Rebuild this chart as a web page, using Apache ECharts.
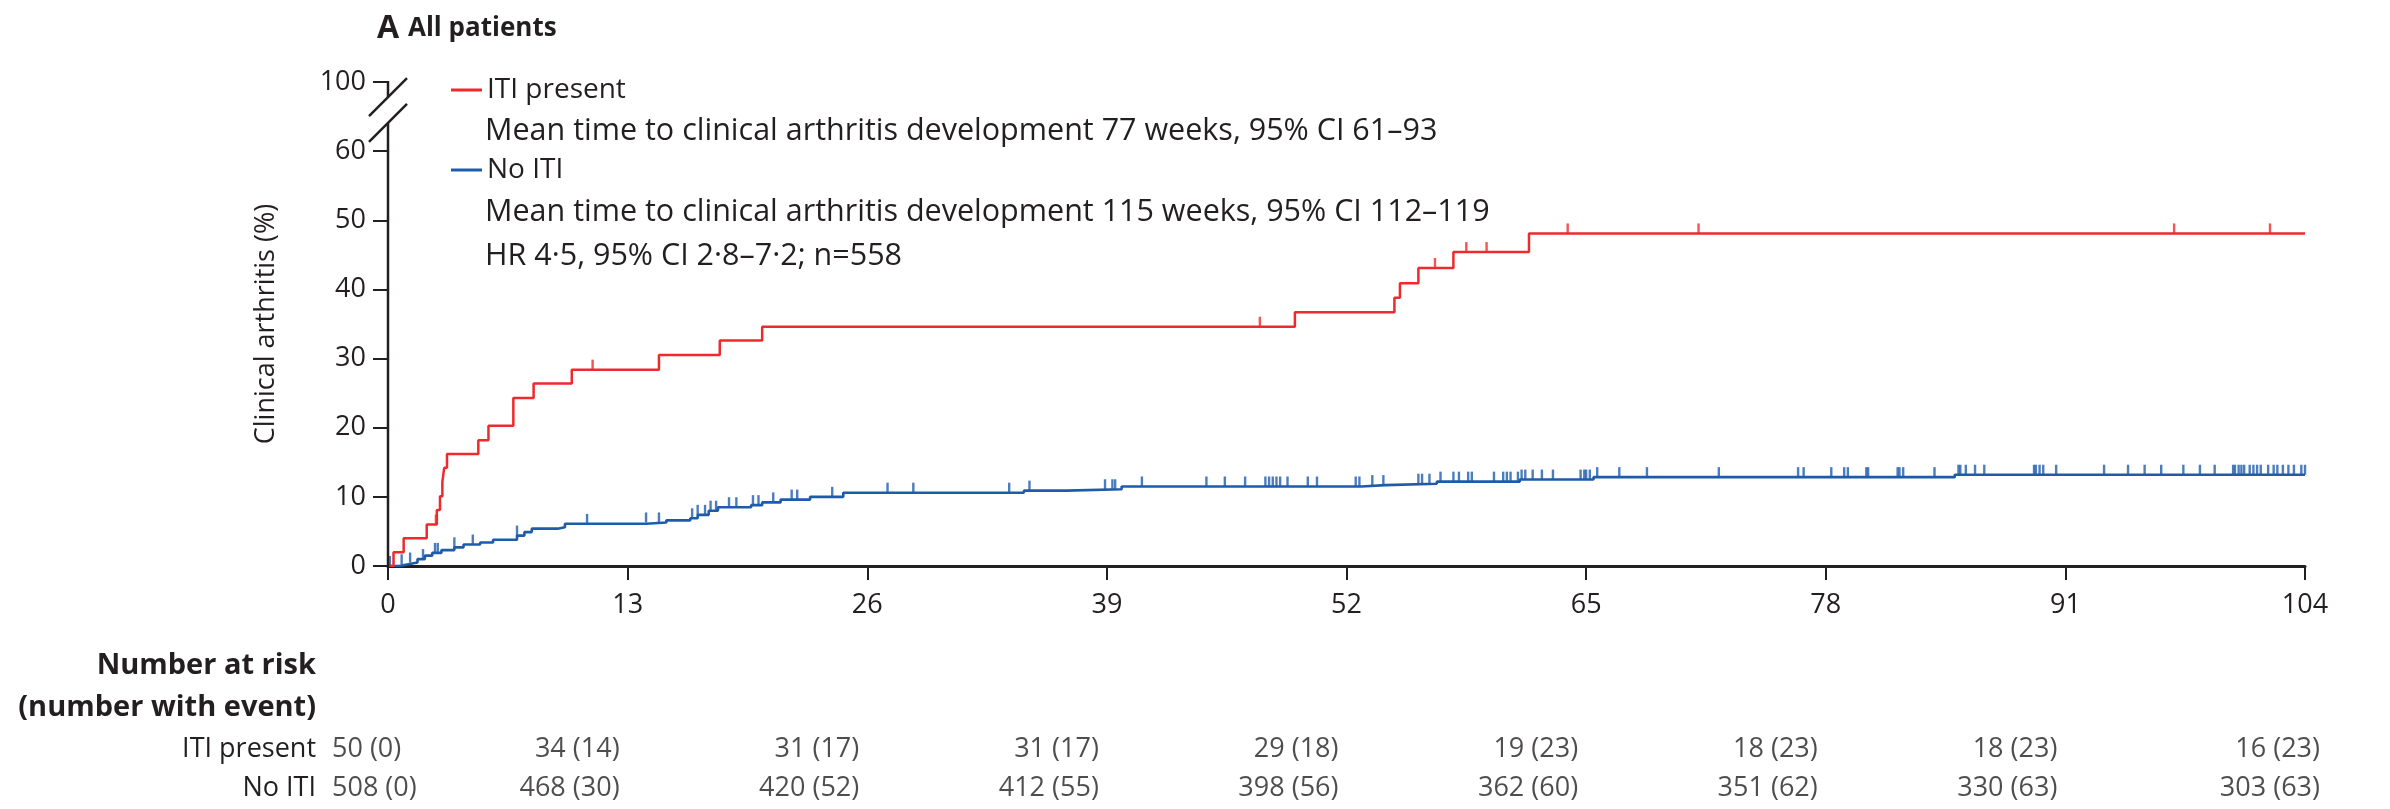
<!DOCTYPE html>
<html><head><meta charset="utf-8">
<script src="https://cdn.jsdelivr.net/npm/echarts@6/dist/echarts.min.js"></script>
<style>html,body{margin:0;padding:0;background:#fff}#c{width:2390px;height:809px}</style>
</head><body><div id="c"></div>
<script>
// ---------- data ----------
const weekTicks = [0, 13, 26, 39, 52, 65, 78, 91, 104];
const yTickLabels = {0:'0',10:'10',20:'20',30:'30',40:'40',50:'50',60:'60',70:'100'};
const riskRows  = ['No ITI', 'ITI present'];
const riskITI   = ['50 (0)','34 (14)','31 (17)','31 (17)','29 (18)','19 (23)','18 (23)','18 (23)','16 (23)'];
const riskNoITI = ['508 (0)','468 (30)','420 (52)','412 (55)','398 (56)','362 (60)','351 (62)','330 (63)','303 (63)'];

const itiWeeks = [0,0.3,0.85,2.1,2.65,2.82,2.95,3.05,3.2,4.9,5.45,6.8,7.9,9.97,14.7,18.0,20.3,49.2,54.6,54.9,55.9,57.8,61.9,104];
const itiPct   = [0,2,4,6,8.1,10.1,12.2,14.2,16.2,18.2,20.3,24.3,26.4,28.4,30.5,32.6,34.6,36.7,38.8,40.9,43.1,45.4,48.1,48.1];
const itiCensorWeeks = [2.6,11.1,47.3,56.8,58.5,59.6,64.0,71.1,96.9,102.1];

const noItiWeeks = [0,0.6,1.1,1.6,2.0,2.4,2.9,3.6,4.1,5.0,5.7,7.0,7.4,7.8,9.2,9.6,14.0,15.1,16.4,16.8,17.4,17.9,19.7,20.3,21.3,22.9,24.7,34.5,36.8,39.8,52.8,54.1,56.9,61.4,65.4,85.0,104];
const noItiPct   = [0,0.25,0.5,1.0,1.5,1.9,2.3,2.7,3.1,3.4,3.8,4.4,4.9,5.4,5.6,6.1,6.3,6.6,6.9,7.4,8.0,8.5,8.8,9.2,9.6,10.0,10.6,10.9,11.1,11.5,11.7,11.9,12.2,12.5,12.85,13.2,13.2];
const noItiCensorWeeks = [0.1,0.74,1.2,1.9,2.55,2.7,3.6,4.6,7.0,10.8,14.0,14.7,16.5,16.8,17.2,17.5,17.8,18.5,18.9,19.8,20.1,20.9,21.9,22.2,24.1,27.1,28.5,33.7,34.8,38.9,39.3,39.45,40.9,44.4,45.4,46.5,47.6,47.8,48.0,48.2,48.4,48.8,49.9,50.4,52.5,52.7,53.4,54.0,55.9,56.1,56.5,57.1,57.8,58.1,58.6,58.8,60.0,60.5,60.7,60.9,61.3,61.5,61.7,62.1,62.6,63.2,64.7,64.9,65.0,65.2,65.6,66.8,68.3,72.2,76.5,76.8,78.3,79.0,79.2,80.2,80.3,81.9,82.0,82.2,83.9,85.2,85.3,85.6,86.1,86.6,89.3,89.4,89.6,89.8,90.5,93.1,94.4,95.3,96.2,97.4,98.3,99.1,100.1,100.2,100.4,100.55,100.7,101.0,101.2,101.4,101.6,102.0,102.3,102.5,102.8,103.1,103.4,103.8,104.0];

const legendNotes = [
  'Mean time to clinical arthritis development 77 weeks, 95% CI 61–93',
  'Mean time to clinical arthritis development 115 weeks, 95% CI 112–119',
  'HR 4·5, 95% CI 2·8–7·2; n=558'
];

// ---------- helpers ----------
function pairs(xs, ys){ return xs.map((x,i)=>[x, ys[i]]); }
function stepAt(xs, ys, t){ let v = ys[0]; for (let i=0;i<xs.length;i++){ if (xs[i] <= t) v = ys[i]; } return v; }
function censor(ws, xs, ys){ return ws.map(w => [w, stepAt(xs, ys, w)]); }

const RED = '#EE2A2D', BLUE = '#1E5CAB', INK = '#231F20';
const FONT = "'Open Sans', 'Noto Sans', sans-serif";
const FS = 27, FS_NOTE = 30.5, FS_LEG = 28;
const BREAK_LOW = 64.1, BREAK_HIGH = 67.8, Y_TOP = 70;

// label placement per column: first column left-aligned, middle right-aligned, last right-aligned
function riskLabelStyle(i){
  if (i === 0) return {align:'left', offset:[-56, 0]};
  if (i === weekTicks.length - 1) return {align:'right', offset:[15, 0]};
  return {align:'right', offset:[-8, 0]};
}
function riskData(row, labels){
  return weekTicks.map((w,i)=>({value:[w, row], name:labels[i], label:riskLabelStyle(i)}));
}

const chart = echarts.init(document.getElementById('c'), null, {renderer:'canvas'});

function riskSeries(row, labels){
  return {type:'scatter', xAxisIndex:1, yAxisIndex:1, data:riskData(row, labels), symbolSize:1,
    itemStyle:{color:'rgba(0,0,0,0)'}, silent:true,
    label:{show:true, position:'inside', verticalAlign:'middle',
      fontSize:FS, fontFamily:FONT, color:INK, formatter: p => p.name}};
}

const noteStyle = (t) => ({text:t, fontSize:FS_NOTE, fontFamily:FONT, fill:INK, verticalAlign:'middle', textVerticalAlign:'middle'});
const boldRight = (t) => ({text:t, fontSize:29, fontWeight:'bold', fontFamily:FONT, fill:INK, align:'right', textAlign:'right', verticalAlign:'middle', textVerticalAlign:'middle'});

const option = {
  backgroundColor:'#fff',
  animation:false,
  grid:[
    {left:388, right:85, top:82, bottom:243, containLabel:false, outerBoundsMode:'none'},
    {left:388, right:85, top:729.5, height:78, containLabel:false, outerBoundsMode:'none'}
  ],
  legend:[
    {data:['ITI present'], left:451, top:76, padding:0, icon:'rect', itemWidth:31, itemHeight:3, itemGap:0,
      selectedMode:false, textStyle:{fontSize:FS_LEG, fontFamily:FONT, color:INK}},
    {data:['No ITI'], left:451, top:156, padding:0, icon:'rect', itemWidth:31, itemHeight:3, itemGap:0,
      selectedMode:false, textStyle:{fontSize:FS_LEG, fontFamily:FONT, color:INK}}
  ],
  xAxis:[
    {type:'value', gridIndex:0, min:0, max:104, interval:13,
      axisLine:{show:true, onZero:false, lineStyle:{color:INK, width:3}},
      axisTick:{show:true, length:14, lineStyle:{color:INK, width:2}},
      splitLine:{show:false},
      axisLabel:{margin:39, verticalAlign:'middle', fontSize:FS, fontFamily:FONT, color:INK}},
    {type:'value', gridIndex:1, min:0, max:104, interval:13, show:false}
  ],
  yAxis:[
    {type:'value', gridIndex:0, min:0, max:Y_TOP, interval:10,
      axisLine:{show:false},
      axisTick:{show:true, inside:false, length:15, lineStyle:{color:INK, width:2}},
      splitLine:{show:false},
      axisLabel:{margin:22, fontSize:FS, fontFamily:FONT, color:INK, formatter: v => yTickLabels[v] ?? ''},
      name:'Clinical arthritis (%)', nameLocation:'middle', nameGap:108, nameRotate:90,
      nameTextStyle:{fontSize:FS, fontFamily:FONT, color:INK}},
    {type:'category', gridIndex:1, data:riskRows,
      axisLine:{show:false}, axisTick:{show:false}, splitLine:{show:false},
      axisLabel:{interval:0, margin:72, fontSize:FS, fontFamily:FONT, color:INK}}
  ],
  graphic:[
    {type:'text', x:377, y:29, style:{text:'A', fontSize:32, fontWeight:'bold', fontFamily:FONT, fill:INK, verticalAlign:'middle', textVerticalAlign:'middle'}},
    {type:'text', x:408, y:29, style:{text:'All patients', fontSize:26, fontWeight:'bold', fontFamily:FONT, fill:INK, verticalAlign:'middle', textVerticalAlign:'middle'}},
    {type:'text', x:485, y:131, style:noteStyle(legendNotes[0])},
    {type:'text', x:485, y:212, style:noteStyle(legendNotes[1])},
    {type:'text', x:485, y:256, style:noteStyle(legendNotes[2])},
    {type:'text', x:316, y:666, style:boldRight('Number at risk')},
    {type:'text', x:316, y:708, style:boldRight('(number with event)')}
  ],
  series:[
    {name:'No ITI', type:'line', step:'end', data:pairs(noItiWeeks, noItiPct), showSymbol:false, symbol:'none',
      lineStyle:{color:BLUE, width:2.6}, itemStyle:{color:BLUE}, z:3},
    {name:'ITI present', type:'line', step:'end', data:pairs(itiWeeks, itiPct), showSymbol:false, symbol:'none',
      lineStyle:{color:RED, width:2.5}, itemStyle:{color:RED}, z:4},
    {name:'No ITI censored', type:'scatter', data:censor(noItiCensorWeeks, noItiWeeks, noItiPct),
      symbol:'rect', symbolSize:[2.4, 10], symbolOffset:[0,-5], itemStyle:{color:BLUE}, z:3, silent:true},
    {name:'ITI censored', type:'scatter', data:censor(itiCensorWeeks, itiWeeks, itiPct),
      symbol:'rect', symbolSize:[2.4, 10], symbolOffset:[0,-5], itemStyle:{color:RED}, z:4, silent:true},
    riskSeries('ITI present', riskITI),
    riskSeries('No ITI', riskNoITI),
    {name:'axis break', type:'custom', data:[[0,0]], silent:true, clip:false, z:10,
      renderItem:function(params, api){
        const a0 = api.coord([0,0]);
        const lo = api.coord([0,BREAK_LOW]);
        const hi = api.coord([0,BREAK_HIGH]);
        const top = api.coord([0,Y_TOP]);
        const s = 19;
        const st = {stroke:INK, lineWidth:2.5, fill:null};
        return {type:'group', children:[
          {type:'line', shape:{x1:a0[0], y1:a0[1]+1.5, x2:lo[0], y2:lo[1]}, style:st},
          {type:'line', shape:{x1:hi[0], y1:hi[1], x2:top[0], y2:top[1]-1}, style:st},
          {type:'line', shape:{x1:lo[0]-s, y1:lo[1]+s, x2:lo[0]+s, y2:lo[1]-s}, style:st},
          {type:'line', shape:{x1:hi[0]-s, y1:hi[1]+s, x2:hi[0]+s, y2:hi[1]-s}, style:st}
        ]};
      }}
  ]
};
chart.setOption(option);
</script></body></html>
